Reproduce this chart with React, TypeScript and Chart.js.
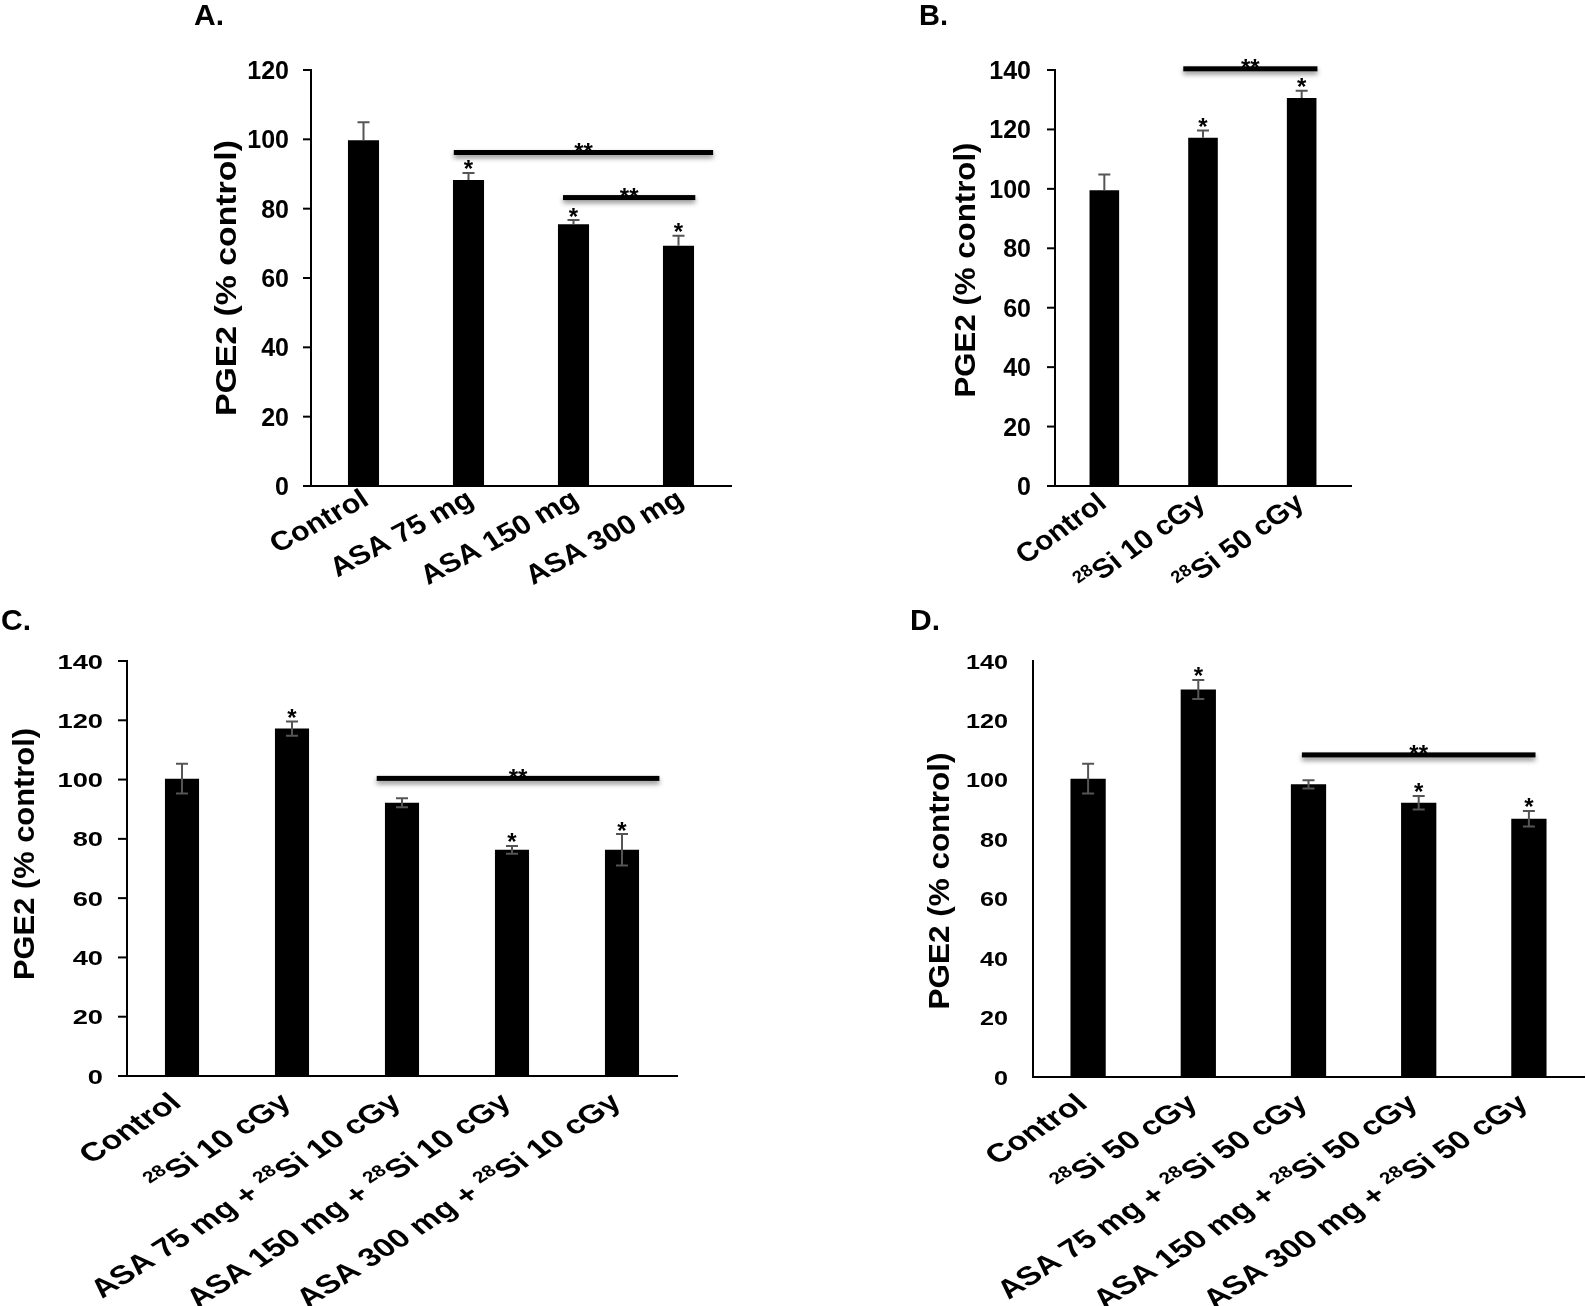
import { useEffect, useRef } from "react";
import { Chart, registerables } from "chart.js";
Chart.register(...registerables);

const W = 1586;
const H = 1306;
const FONT = '"Liberation Sans", Arial, Helvetica, sans-serif';
const TITLE = "PGE2 (% control)";

// ---- Panel A ----
const catsA = ["Control", "ASA 75 mg", "ASA 150 mg", "ASA 300 mg"];
const valsA = [99.7, 88.3, 75.5, 69.3];
const errA = [5.2, 2.0, 1.2, 2.9];
const starA = [false, true, true, true];
const sigA = [
  { from: 0.86, to: 3.33, y: 96.2 },
  { from: 1.9, to: 3.16, y: 83.2 },
];
const ticksA = [0, 20, 40, 60, 80, 100, 120];

// ---- Panel B ----
const catsB = ["Control", "²⁸Si 10 cGy", "²⁸Si 50 cGy"];
const valsB = [99.5, 117.2, 130.6];
const errB = [5.3, 2.4, 2.4];
const starB = [false, true, true];
const sigB = [{ from: 0.8, to: 2.16, y: 140.4 }];
const ticksB = [0, 20, 40, 60, 80, 100, 120, 140];

// ---- Panel C ----
const catsC = [
  "Control",
  "²⁸Si 10 cGy",
  "ASA 75 mg + ²⁸Si 10 cGy",
  "ASA 150 mg + ²⁸Si 10 cGy",
  "ASA 300 mg + ²⁸Si 10 cGy",
];
const valsC = [100.3, 117.2, 92.2, 76.3, 76.3];
const errC = [5.0, 2.4, 1.5, 1.3, 5.3];
const starC = [false, true, false, true, true];
const sigC = [{ from: 1.77, to: 4.34, y: 100.4 }];
const ticksC = [0, 20, 40, 60, 80, 100, 120, 140];

// ---- Panel D ----
const catsD = [
  "Control",
  "²⁸Si 50 cGy",
  "ASA 75 mg + ²⁸Si 50 cGy",
  "ASA 150 mg + ²⁸Si 50 cGy",
  "ASA 300 mg + ²⁸Si 50 cGy",
];
const valsD = [100.4, 130.4, 98.5, 92.3, 86.9];
const errD = [5.0, 3.2, 1.4, 2.3, 2.6];
const starD = [false, true, false, true, true];
const sigD = [{ from: 1.94, to: 4.06, y: 108.4 }];
const ticksD = [0, 20, 40, 60, 80, 100, 120, 140];

type Sig = { from: number; to: number; y: number };
type Panel = {
  letter: string;
  cats: string[];
  vals: number[];
  errs: number[];
  stars: boolean[];
  sigs: Sig[];
  yTicks: number[];
  twoSided: boolean;
  area: { left: number; top: number; right: number; bottom: number };
  barPct: number;
  letterPos: { x: number; y: number; size: number };
  title: { x: number; y: number; size: number; len: number };
  yLab: { size: number; sx: number; gap: number; tickLen: number };
  xLab: { size: number; sx: number; angle: number; dx: number; dy: number };
  sigWidth: number;
};

const panels: Panel[] = [
  {
    letter: "A.",
    cats: catsA, vals: valsA, errs: errA, stars: starA, sigs: sigA, yTicks: ticksA,
    twoSided: false,
    area: { left: 311, top: 70, right: 731, bottom: 486 },
    barPct: 0.296,
    letterPos: { x: 194, y: 25, size: 30 },
    title: { x: 228, y: 278, size: 29, len: 276 },
    yLab: { size: 25, sx: 1, gap: 22, tickLen: 8 },
    xLab: { size: 27, sx: 1.13, angle: 31, dx: 7, dy: 18 },
    sigWidth: 5,
  },
  {
    letter: "B.",
    cats: catsB, vals: valsB, errs: errB, stars: starB, sigs: sigB, yTicks: ticksB,
    twoSided: false,
    area: { left: 1055, top: 70, right: 1351, bottom: 486 },
    barPct: 0.3,
    letterPos: { x: 919, y: 25, size: 29 },
    title: { x: 967, y: 270, size: 29, len: 255 },
    yLab: { size: 25, sx: 1, gap: 24, tickLen: 8 },
    xLab: { size: 27, sx: 1.1, angle: 38, dx: 4, dy: 20 },
    sigWidth: 5,
  },
  {
    letter: "C.",
    cats: catsC, vals: valsC, errs: errC, stars: starC, sigs: sigC, yTicks: ticksC,
    twoSided: true,
    area: { left: 127, top: 661, right: 677, bottom: 1076 },
    barPct: 0.31,
    letterPos: { x: 1, y: 630, size: 30 },
    title: { x: 26, y: 854, size: 30, len: 252 },
    yLab: { size: 21, sx: 1.3, gap: 24, tickLen: 9 },
    xLab: { size: 26, sx: 1.3, angle: 40, dx: 1, dy: 29 },
    sigWidth: 5,
  },
  {
    letter: "D.",
    cats: catsD, vals: valsD, errs: errD, stars: starD, sigs: sigD, yTicks: ticksD,
    twoSided: true,
    area: { left: 1033, top: 661, right: 1584, bottom: 1077 },
    barPct: 0.32,
    letterPos: { x: 910, y: 630, size: 30 },
    title: { x: 941, y: 881, size: 30, len: 257 },
    yLab: { size: 21, sx: 1.2, gap: 25, tickLen: 0 },
    xLab: { size: 26, sx: 1.3, angle: 40, dx: 1, dy: 29 },
    sigWidth: 5,
  },
];

const SUP = "⁰¹²³⁴⁵⁶⁷⁸⁹";

function runsOf(s: string) {
  const runs: { t: string; sup: boolean }[] = [];
  for (const ch of s) {
    const i = SUP.indexOf(ch);
    const sup = i >= 0;
    const t = sup ? String(i) : ch;
    const last = runs[runs.length - 1];
    if (last && last.sup === sup) last.t += t;
    else runs.push({ t, sup });
  }
  return runs;
}

function drawRich(ctx: CanvasRenderingContext2D, s: string, size: number, align: "left" | "right" | "center") {
  const runs = runsOf(s);
  const fontOf = (sup: boolean) => `bold ${sup ? size * 0.62 : size}px ${FONT}`;
  const widths = runs.map((r) => {
    ctx.font = fontOf(r.sup);
    return ctx.measureText(r.t).width;
  });
  const total = widths.reduce((a, b) => a + b, 0);
  let x = align === "right" ? -total : align === "center" ? -total / 2 : 0;
  ctx.textAlign = "left";
  ctx.textBaseline = "alphabetic";
  runs.forEach((r, i) => {
    ctx.font = fontOf(r.sup);
    ctx.fillText(r.t, x, r.sup ? -size * 0.4 : 0);
    x += widths[i];
  });
}

function makeChart(canvas: HTMLCanvasElement, p: Panel) {
  const catPx = (chart: any, f: number) => {
    const xs = chart.scales.x;
    const a = xs.getPixelForValue(0);
    const b = xs.getPixelForValue(1);
    return a + f * (b - a);
  };
  const decor = {
    id: "decor",
    afterDatasetsDraw(chart: any) {
      const ctx: CanvasRenderingContext2D = chart.ctx;
      const xs = chart.scales.x;
      const ys = chart.scales.y;
      ctx.save();
      ctx.strokeStyle = "#555";
      ctx.lineWidth = 2;
      p.vals.forEach((v, i) => {
        const px = xs.getPixelForValue(i);
        const top = ys.getPixelForValue(v + p.errs[i]);
        const bot = p.twoSided ? ys.getPixelForValue(v - p.errs[i]) : ys.getPixelForValue(v);
        const cap = 6;
        ctx.beginPath();
        ctx.moveTo(px, bot);
        ctx.lineTo(px, top);
        ctx.moveTo(px - cap, top);
        ctx.lineTo(px + cap, top);
        if (p.twoSided) {
          ctx.moveTo(px - cap, bot);
          ctx.lineTo(px + cap, bot);
        }
        ctx.stroke();
      });
      ctx.restore();
    },
    afterDraw(chart: any) {
      const ctx: CanvasRenderingContext2D = chart.ctx;
      const xs = chart.scales.x;
      const ys = chart.scales.y;
      const area = chart.chartArea;
      ctx.save();
      ctx.fillStyle = "#000";
      ctx.strokeStyle = "#000";

      // y tick marks and labels
      p.yTicks.forEach((v) => {
        const py = ys.getPixelForValue(v);
        if (p.yLab.tickLen > 0) {
          ctx.lineWidth = 2;
          ctx.beginPath();
          ctx.moveTo(area.left - p.yLab.tickLen, py);
          ctx.lineTo(area.left, py);
          ctx.stroke();
        }
        ctx.save();
        ctx.translate(area.left - p.yLab.gap, py + p.yLab.size * 0.36);
        ctx.scale(p.yLab.sx, 1);
        drawRich(ctx, String(v), p.yLab.size, "right");
        ctx.restore();
      });

      // x labels
      p.cats.forEach((c, i) => {
        const px = xs.getPixelForValue(i);
        ctx.save();
        ctx.translate(px + p.xLab.dx, area.bottom + p.xLab.dy);
        ctx.scale(p.xLab.sx, 1);
        ctx.rotate((-p.xLab.angle * Math.PI) / 180);
        drawRich(ctx, c, p.xLab.size, "right");
        ctx.restore();
      });

      // single stars
      p.vals.forEach((v, i) => {
        if (!p.stars[i]) return;
        const px = xs.getPixelForValue(i);
        const top = ys.getPixelForValue(v + p.errs[i]);
        ctx.save();
        ctx.font = `bold 24px ${FONT}`;
        ctx.textAlign = "center";
        ctx.textBaseline = "alphabetic";
        ctx.fillText("*", px, top - 9 + 24 * 0.56);
        ctx.restore();
      });

      // significance lines
      p.sigs.forEach((s) => {
        const x1 = catPx(chart, s.from);
        const x2 = catPx(chart, s.to);
        const py = ys.getPixelForValue(s.y);
        ctx.save();
        ctx.shadowColor = "rgba(0,0,0,0.45)";
        ctx.shadowBlur = 5;
        ctx.shadowOffsetY = 3;
        ctx.fillRect(x1, py - p.sigWidth / 2, x2 - x1, p.sigWidth);
        ctx.restore();
        ctx.save();
        ctx.font = `bold 24px ${FONT}`;
        ctx.textAlign = "center";
        ctx.textBaseline = "alphabetic";
        ctx.fillText("**", (x1 + x2) / 2, py - 6 + 24 * 0.56);
        ctx.restore();
      });

      // y title
      ctx.save();
      ctx.translate(p.title.x, p.title.y);
      ctx.rotate(-Math.PI / 2);
      ctx.font = `bold ${p.title.size}px ${FONT}`;
      const tw = ctx.measureText(TITLE).width;
      ctx.scale(p.title.len / tw, 1);
      ctx.textAlign = "center";
      ctx.textBaseline = "middle";
      ctx.fillText(TITLE, 0, 0);
      ctx.restore();

      // panel letter
      ctx.font = `bold ${p.letterPos.size}px ${FONT}`;
      ctx.textAlign = "left";
      ctx.textBaseline = "alphabetic";
      ctx.fillText(p.letter, p.letterPos.x, p.letterPos.y);
      ctx.restore();
    },
  };

  return new Chart(canvas, {
    type: "bar",
    data: {
      labels: p.cats,
      datasets: [
        {
          data: p.vals,
          backgroundColor: "#000",
          borderWidth: 0,
          barPercentage: p.barPct,
          categoryPercentage: 1,
        },
      ],
    },
    options: {
      animation: false,
      responsive: false,
      events: [],
      layout: { padding: { left: 0, top: p.area.top, right: W - p.area.right, bottom: 0 } },
      plugins: { legend: { display: false }, tooltip: { enabled: false } },
      scales: {
        x: {
          grid: { display: false },
          ticks: { display: false },
          border: { display: true, color: "#000", width: 2 },
          afterFit: (s: any) => {
            s.height = H - p.area.bottom;
          },
        },
        y: {
          min: 0,
          max: p.yTicks[p.yTicks.length - 1],
          grid: { display: false },
          ticks: { display: false, stepSize: 20 },
          border: { display: true, color: "#000", width: 2 },
          afterFit: (s: any) => {
            s.width = p.area.left;
          },
        },
      },
    } as any,
    plugins: [decor],
  });
}

function PanelCanvas({ p }: { p: Panel }) {
  const ref = useRef<HTMLCanvasElement | null>(null);
  useEffect(() => {
    if (!ref.current) return;
    const chart = makeChart(ref.current, p);
    return () => chart.destroy();
  }, [p]);
  return (
    <canvas
      ref={ref}
      width={W}
      height={H}
      style={{ position: "absolute", left: 0, top: 0, width: W, height: H }}
    />
  );
}

export default function App() {
  return (
    <div
      style={{
        position: "absolute",
        left: 0,
        top: 0,
        width: W,
        height: H,
        overflow: "hidden",
        background: "#fff",
      }}
    >
      {panels.map((p) => (
        <PanelCanvas key={p.letter} p={p} />
      ))}
    </div>
  );
}
